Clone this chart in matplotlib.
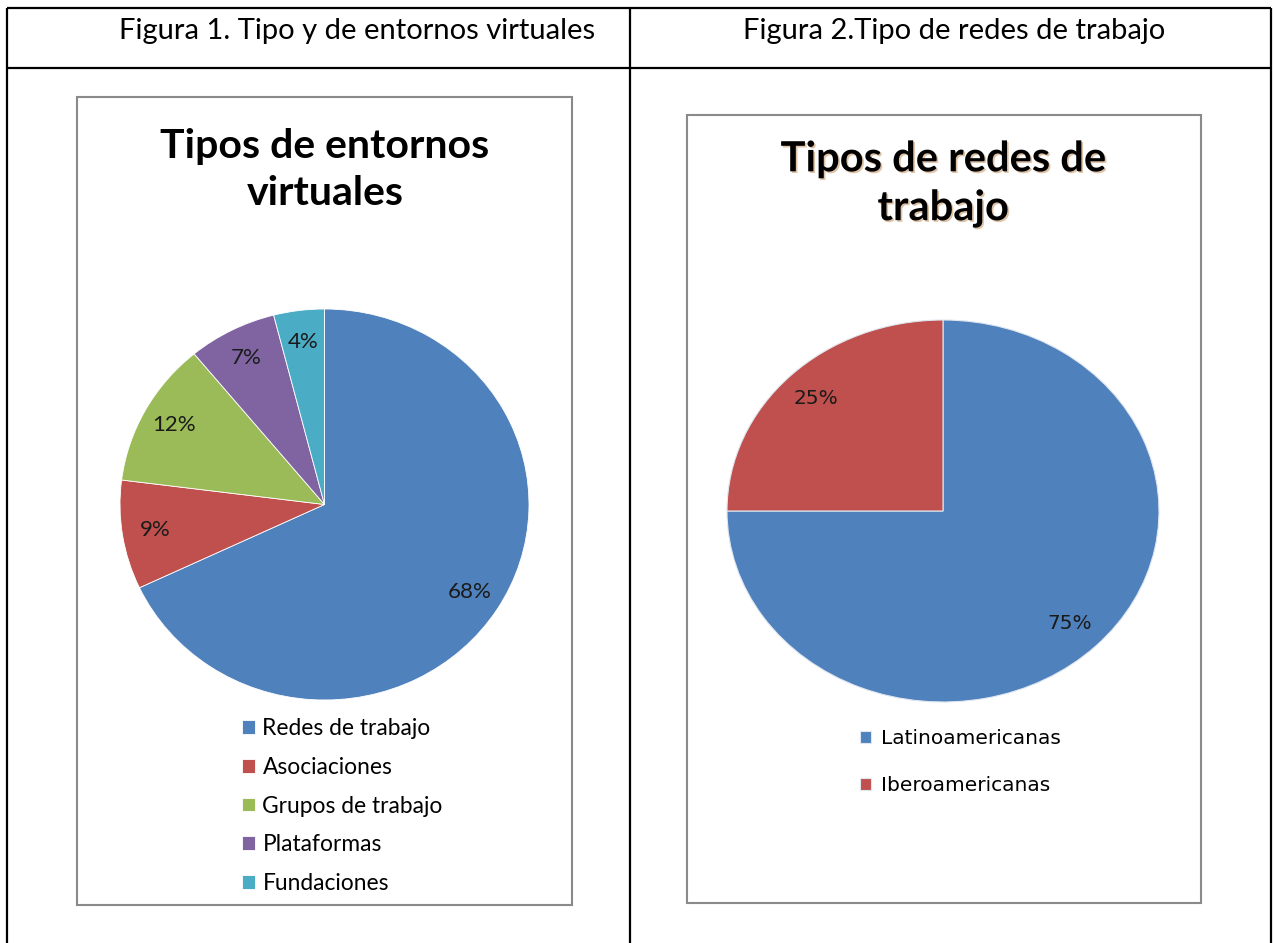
import matplotlib.pyplot as plt
import matplotlib.patheffects as pe
from matplotlib.patches import Rectangle
from matplotlib.lines import Line2D

W, H = 1274, 943

# data
entornos_labels = ['Redes de trabajo', 'Asociaciones', 'Grupos de trabajo', 'Plataformas', 'Fundaciones']
entornos_values = [68, 9, 12, 7, 4]
entornos_colors = ['#4F81BD', '#C0504D', '#9BBB59', '#8064A2', '#4BACC6']

redes_labels = ['Latinoamericanas', 'Iberoamericanas']
redes_values = [75, 25]
redes_colors = ['#4F81BD', '#C0504D']

header_left = 'Figura 1. Tipo y de entornos virtuales'
header_right = 'Figura 2.Tipo de redes de trabajo'
title_left = 'Tipos de entornos\nvirtuales'
title_right = 'Tipos de redes de\ntrabajo'


def fx(x):
    return x / W


def fy(y):
    return 1 - y / H


def rect(x0, y0, x1, y1):
    return [fx(x0), fy(y1), (x1 - x0) / W, (y1 - y0) / H]


fig = plt.figure(figsize=(W / 100, H / 100), dpi=100)
fig.patch.set_facecolor('white')

# table grid
tbl = dict(color='black', lw=1.6, solid_capstyle='butt')
fig.add_artist(Line2D([fx(7), fx(1271)], [fy(8), fy(8)], **tbl))
fig.add_artist(Line2D([fx(7), fx(1271)], [fy(68), fy(68)], **tbl))
for xx in (7, 630, 1271):
    fig.add_artist(Line2D([fx(xx), fx(xx)], [fy(8), fy(943)], **tbl))

fig.text(fx(357), fy(31), header_left, ha='center', va='center', fontsize=21, family='Lato')
fig.text(fx(954), fy(31), header_right, ha='center', va='center', fontsize=21, family='Lato')

# chart frames
for x0, y0, x1, y1 in [(77, 97, 572, 905), (687, 115, 1201, 903)]:
    fig.add_artist(Rectangle((fx(x0), fy(y1)), (x1 - x0) / W, (y1 - y0) / H,
                             transform=fig.transFigure, fill=False,
                             edgecolor='#8a8a8a', lw=1.5))

# left pie
ax1 = fig.add_axes(rect(120, 309, 529, 700))
w1, _, t1 = ax1.pie(entornos_values, colors=entornos_colors, startangle=90, counterclock=False,
                    autopct='%1.0f%%', pctdistance=0.84,
                    wedgeprops=dict(edgecolor='white', linewidth=0.6),
                    textprops=dict(fontsize=16, family='Lato', color='#1a1a1a'))
ax1.set_aspect('auto')
ax1.set_xlim(-1, 1)
ax1.set_ylim(-1, 1)
ax1.axis('off')

fig.text(fx(325), fy(170), title_left, ha='center', va='center', fontsize=29.5,
         family='Lato', fontweight='bold', linespacing=1.35)

fig.legend(w1, entornos_labels, loc='upper left', bbox_to_anchor=(fx(242), fy(718)),
           frameon=False, prop=dict(family='Lato', size=16.4),
           handlelength=0.55, handleheight=0.55, handletextpad=0.35,
           labelspacing=0.78, borderpad=0, borderaxespad=0)

# right pie
ax2 = fig.add_axes(rect(727, 320, 1159, 702))
w2, _, t2 = ax2.pie(redes_values, colors=redes_colors, startangle=90, counterclock=False,
                    autopct='%1.0f%%', pctdistance=0.83,
                    wedgeprops=dict(edgecolor='#dfe6f0', linewidth=0.8),
                    textprops=dict(fontsize=14.5, family='DejaVu Sans', color='#1a1a1a'))
ax2.set_aspect('auto')
ax2.set_xlim(-1, 1)
ax2.set_ylim(-1, 1)
ax2.axis('off')

fig.text(fx(943), fy(184), title_right, ha='center', va='center', fontsize=30,
         family='Lato', fontweight='bold', linespacing=1.35,
         path_effects=[pe.withSimplePatchShadow(offset=(1.2, -1.2), shadow_rgbFace='#b87a3c', alpha=0.45)])

fig.legend(w2, redes_labels, loc='upper left', bbox_to_anchor=(fx(860), fy(729)),
           frameon=False, prop=dict(family='DejaVu Sans', size=14.5),
           handlelength=0.55, handleheight=0.55, handletextpad=0.5,
           labelspacing=1.4, borderpad=0, borderaxespad=0)

fig.savefig('out.png', dpi=100)
